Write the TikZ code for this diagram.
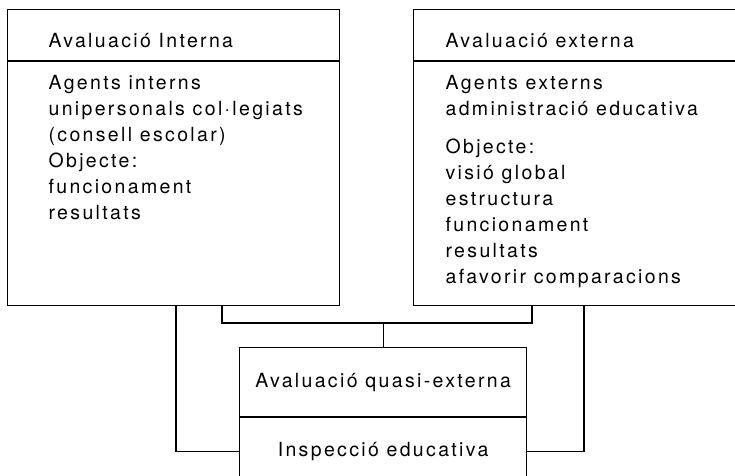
\documentclass[tikz,border=0pt]{standalone}
\usepackage{fontspec}
\setmainfont{TeX Gyre Heros}[LetterSpace = 12]
\usetikzlibrary{positioning}

\begin{document}
\begin{tikzpicture}[x = 1pt, y = -1pt, line width = 1.2pt,
    box/.style = {shape = rectangle, draw, inner sep = 0pt, anchor = north west},
    boxtext/.style = {inner sep = 0pt, align = left, font = \fontsize{19.5}{26}\selectfont}]

    \useasboundingbox (0,0) rectangle (735,475);
    \clip (0,0) rectangle (735,475);

    \node [box, minimum width = 332pt, minimum height = 51pt] (intHead) at (7,9) {};
    \node [box, minimum width = 332pt, minimum height = 244pt] (intBody) at (intHead.south west) {};
    \node [boxtext, right = 41pt of intHead.west, yshift = -5pt] (intTitle) {Avaluació Interna};
    \node [boxtext, below right = 13pt and 41pt of intBody.north west] (intText)
        {Agents interns\\ unipersonals col·legiats\\ (consell escolar)\\ Objecte:\\ funcionament\\ resultats};

    \node [box, minimum width = 332pt, minimum height = 51pt] (extHead) at (413,9) {};
    \node [box, minimum width = 332pt, minimum height = 244pt] (extBody) at (extHead.south west) {};
    \node [boxtext, right = 32pt of extHead.west, yshift = -5pt] (extTitle) {Avaluació externa};
    \node [boxtext, below right = 13pt and 32pt of extBody.north west] (extText)
        {Agents externs\\ administració educativa\\[12pt] Objecte:\\ visió global\\ estructura\\ funcionament\\ resultats\\ afavorir comparacions};

    \node [box, minimum width = 287pt, minimum height = 69pt] (quasiHead) at (239,347) {};
    \node [box, minimum width = 287pt, minimum height = 68pt] (quasiBody) at (quasiHead.south west) {};
    \node [boxtext] (quasiTitle) at (quasiHead) {Avaluació quasi-externa};
    \node [boxtext] (quasiText) at (quasiBody) {Inspecció educativa};

    \coordinate (intLeg) at ([xshift = 169pt]intBody.south west);
    \coordinate (intFoot) at ([xshift = 215pt]intBody.south west);
    \coordinate (extFoot) at ([xshift = 119pt]extBody.south west);
    \coordinate (extLeg) at ([xshift = 171pt]extBody.south west);
    \coordinate (join) at ([yshift = 24pt]quasiHead.north);

    \draw (intFoot) |- (join) -| (extFoot);
    \draw (join) -- (quasiHead.north);
    \draw (intLeg) |- (quasiBody.west);
    \draw (extLeg) |- (quasiBody.east);
\end{tikzpicture}
\end{document}
